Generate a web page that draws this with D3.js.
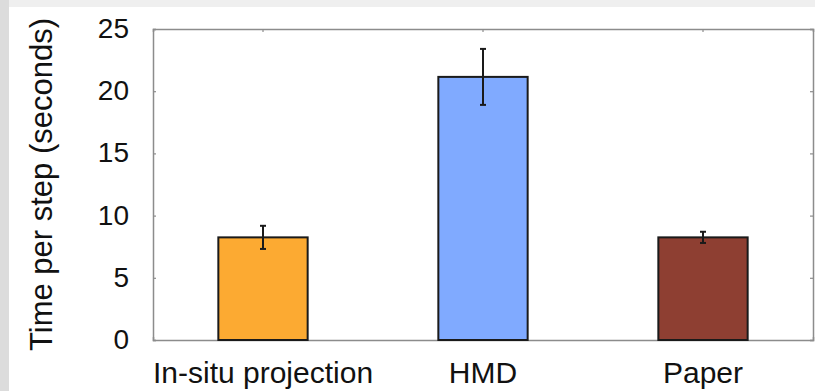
<!DOCTYPE html>
<html>
<head>
<meta charset="utf-8">
<script src="https://cdn.jsdelivr.net/npm/d3@7"></script>
<style>
  body { margin: 0; background: #fff; }
  svg { display: block; font-family: "Liberation Sans", Arial, sans-serif; }
</style>
</head>
<body>
<svg id="chart"></svg>
<script>
const categories = ["In-situ projection", "HMD", "Paper"];
const means = [8.25, 21.15, 8.25];
const errors = [0.93, 2.25, 0.45];
const colors = ["#fcaa32", "#80aaff", "#8e3f32"];
const yTicks = [0, 5, 10, 15, 20, 25];

const W = 815, H = 391;
const margin = { top: 29, right: 2, bottom: 51, left: 153 };
const width = W - margin.left - margin.right;
const height = H - margin.top - margin.bottom;

const svg = d3.select("#chart").attr("width", W).attr("height", H);

// grey page edges from the screenshot
svg.append("rect").attr("x", 0).attr("y", 0).attr("width", W).attr("height", 7).attr("fill", "#efefef");
svg.append("rect").attr("x", 0).attr("y", 0).attr("width", 9).attr("height", H).attr("fill", "#dcdcdc");

const chart = svg.append("g")
  .attr("transform", `translate(${margin.left},${margin.top})`);

const x = d3.scaleBand()
  .domain(categories)
  .range([0, width])
  .paddingInner(0.594)
  .paddingOuter(0.297);

const y = d3.scaleLinear()
  .domain([0, 25])
  .range([height, 0]);

const frameColor = "#8c8c8c";

// axes with inward ticks on all four sides
const axisLeft = chart.append("g")
  .call(d3.axisLeft(y).tickValues(yTicks).tickSize(-3).tickPadding(24));
const axisRight = chart.append("g")
  .attr("transform", `translate(${width},0)`)
  .call(d3.axisRight(y).tickValues(yTicks).tickSize(-3).tickFormat(""));
const axisTop = chart.append("g")
  .call(d3.axisTop(x).tickSize(-3).tickFormat(""));
const axisBottom = chart.append("g")
  .attr("transform", `translate(0,${height})`)
  .call(d3.axisBottom(x).tickSize(-3));

[axisLeft, axisRight, axisTop, axisBottom].forEach(g => {
  g.select(".domain").attr("stroke", frameColor).attr("stroke-width", 1.5);
  g.selectAll(".tick line").attr("stroke", frameColor).attr("stroke-width", 1.2);
  g.selectAll("text").attr("fill", "#111")
    .style("font-family", "'Liberation Sans', Arial, sans-serif");
});
axisLeft.selectAll("text").attr("dy", "0.3em").style("font-size", "28px");
axisBottom.selectAll("text").attr("y", 43).attr("dy", 0).style("font-size", "30px");

// bars
chart.selectAll("rect.bar")
  .data(categories)
  .enter()
  .append("rect")
  .attr("class", "bar")
  .attr("x", d => x(d))
  .attr("y", (d, i) => y(means[i]))
  .attr("width", x.bandwidth())
  .attr("height", (d, i) => height - y(means[i]))
  .attr("fill", (d, i) => colors[i])
  .attr("stroke", "#1a1a1a")
  .attr("stroke-width", 2);

// error bars
const err = chart.selectAll("g.err")
  .data(categories)
  .enter()
  .append("g")
  .attr("class", "err")
  .attr("transform", d => `translate(${x(d) + x.bandwidth() / 2},0)`);

err.append("line")
  .attr("y1", (d, i) => y(means[i] + errors[i]))
  .attr("y2", (d, i) => y(means[i] - errors[i]))
  .attr("stroke", "#1a1a1a").attr("stroke-width", 2);
err.append("line")
  .attr("x1", -3).attr("x2", 3)
  .attr("y1", (d, i) => y(means[i] + errors[i]))
  .attr("y2", (d, i) => y(means[i] + errors[i]))
  .attr("stroke", "#1a1a1a").attr("stroke-width", 2);
err.append("line")
  .attr("x1", -3).attr("x2", 3)
  .attr("y1", (d, i) => y(means[i] - errors[i]))
  .attr("y2", (d, i) => y(means[i] - errors[i]))
  .attr("stroke", "#1a1a1a").attr("stroke-width", 2);

// y axis title
svg.append("text")
  .attr("transform", `translate(52,${margin.top + height / 2}) rotate(-90)`)
  .attr("text-anchor", "middle")
  .attr("fill", "#111")
  .style("font-size", "31px")
  .text("Time per step (seconds)");
</script>
</body>
</html>
